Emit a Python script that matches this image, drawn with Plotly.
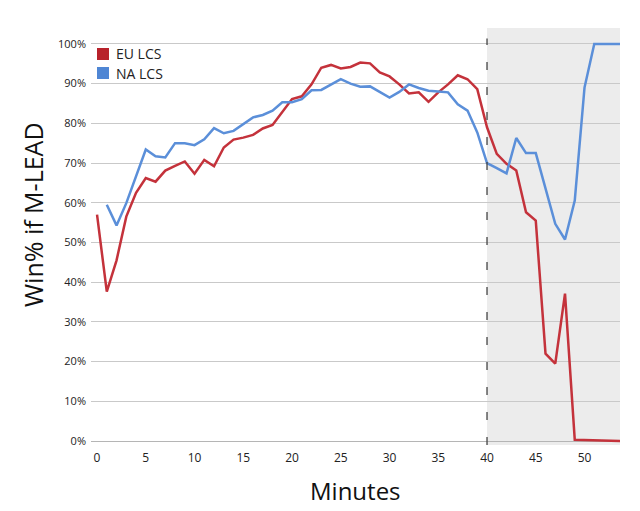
import plotly.graph_objects as go

minutes = list(range(0, 55))

eu_lcs = [57.0, 37.6, 45.5, 56.5, 62.5, 66.2, 65.3, 68.1, 69.3, 70.4,
          67.3, 70.8, 69.2, 73.9, 75.9, 76.4, 77.1, 78.7, 79.6, 82.8,
          86.1, 86.8, 89.8, 94.0, 94.7, 93.8, 94.2, 95.3, 95.1, 92.8,
          91.8, 89.8, 87.5, 87.8, 85.4, 87.8, 89.8, 92.1, 91.1, 88.6,
          79.0, 72.3, 69.8, 68.1, 57.6, 55.5, 22.0, 19.5, 37.1, 0.3,
          0.25, 0.2, 0.15, 0.1, 0.0]

na_lcs = [None, 59.5, 54.3, 59.9, 66.4, 73.4, 71.7, 71.4, 75.0, 75.0,
          74.5, 76.0, 78.8, 77.5, 78.1, 79.8, 81.5, 82.1, 83.2, 85.3,
          85.3, 86.1, 88.3, 88.4, 89.8, 91.1, 90.0, 89.2, 89.3, 87.9,
          86.5, 87.9, 89.8, 88.9, 88.2, 88.0, 87.8, 84.8, 83.2, 77.7,
          70.0, 68.7, 67.4, 76.3, 72.5, 72.5, 63.5, 54.7, 50.75, 60.55,
          89.0, 100.0, 100.0, 100.0, 100.0]

series_names = ["EU LCS", "NA LCS"]
colors = ["#c4323b", "#5b8fd9"]
legend_colors = ["#b8222b", "#4f86d4"]
x_ticks = [0, 5, 10, 15, 20, 25, 30, 35, 40, 45, 50]
y_ticks = [0, 10, 20, 30, 40, 50, 60, 70, 80, 90, 100]
y_tick_labels = ["0%", "10%", "20%", "30%", "40%", "50%", "60%", "70%", "80%", "90%", "100%"]
overtime_start = 40

FONT = "Open Sans, DejaVu Sans, sans-serif"

# plot area geometry (figure pixels)
PL, PR, PT, PB = 83, 612, 20, 437
PW, PH = PR - PL, PB - PT

def px(x):
    return (x - PL) / PW

def py(y):
    return (PB - y) / PH

fig = go.Figure()

for name, ys, col in zip(series_names, [eu_lcs, na_lcs], colors):
    fig.add_trace(go.Scatter(x=minutes, y=ys, mode="lines", name=name,
                             line=dict(color=col, width=2.5),
                             showlegend=False, connectgaps=False))

fig.add_shape(type="rect", xref="x", yref="paper", x0=overtime_start, x1=60,
              y0=0, y1=1, fillcolor="#ececec", line=dict(width=0), layer="below")
fig.add_shape(type="line", xref="x", yref="paper", x0=overtime_start, x1=overtime_start,
              y0=0.0, y1=0.975, line=dict(color="#444444", width=1.3, dash="8px,17px"),
              layer="above")

annotations = []
# manual legend: coloured squares + labels
for k, (name, col) in enumerate(zip(series_names, legend_colors)):
    cy = 46 + 19 * k
    fig.add_shape(type="rect", xref="paper", yref="paper",
                  x0=px(89), x1=px(101), y0=py(cy + 6), y1=py(cy - 6),
                  fillcolor=col, line=dict(width=0), layer="above")
    annotations.append(dict(text=name, xref="paper", yref="paper", x=px(106), y=py(cy),
                            xanchor="left", yanchor="middle", showarrow=False,
                            font=dict(size=14, color="#222222", family=FONT)))

annotations += [
    dict(text="Minutes", xref="paper", yref="paper", x=px(347),
         y=py(482), xanchor="center", yanchor="middle", showarrow=False,
         font=dict(size=24, color="#111111", family=FONT)),
    dict(text="Win% if M-LEAD", xref="paper", yref="paper", x=px(25),
         y=py(207), xanchor="center", yanchor="middle", showarrow=False,
         textangle=-90, font=dict(size=25, color="#111111", family=FONT)),
]

fig.update_layout(
    width=632, height=503,
    margin=dict(l=PL, r=632 - PR, t=PT, b=503 - PB),
    paper_bgcolor="white", plot_bgcolor="rgba(0,0,0,0)",
    font=dict(family=FONT, color="#333333", size=11),
    showlegend=False,
    xaxis=dict(range=[-0.62, 53.64], tickvals=x_ticks, showgrid=False,
               zeroline=False, showline=False, ticks="", ticklabelstandoff=4,
               tickfont=dict(size=12, color="#222222")),
    yaxis=dict(range=[-1.0, 104.0], tickvals=y_ticks, ticktext=y_tick_labels,
               showgrid=True, gridcolor="#c9c9c9", gridwidth=1,
               zeroline=True, zerolinecolor="#b5b5b5", zerolinewidth=1,
               showline=False, ticks="", ticklabelstandoff=4,
               tickfont=dict(size=11, color="#222222")),
    annotations=annotations,
)

fig.write_html("out.html")
